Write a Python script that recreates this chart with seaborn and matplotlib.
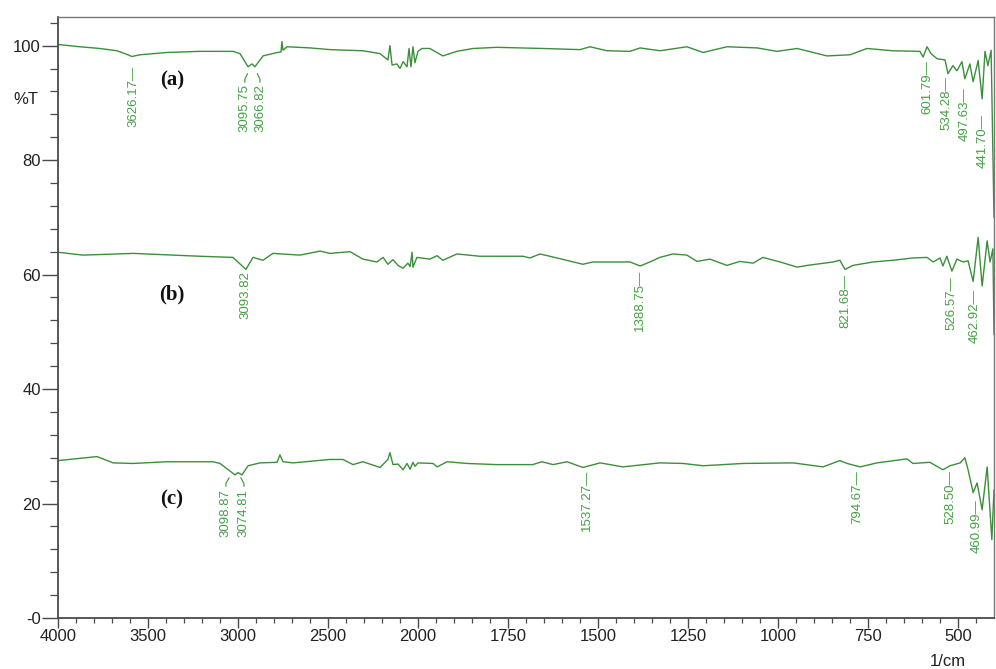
import numpy as np
import pandas as pd
import matplotlib
matplotlib.use('Agg')
import matplotlib.pyplot as plt
from matplotlib.ticker import FixedLocator, MultipleLocator
import seaborn as sns

# spectrum (a): wavenumber (1/cm) and %T
wn_a = [4000, 3878, 3767, 3672, 3628, 3589, 3544, 3394, 3211, 3028, 2989, 2944, 2922, 2906,
        2861, 2783, 2761, 2756, 2750, 2728, 2600, 2489, 2306, 2211, 2167, 2156, 2144, 2117,
        2100, 2083, 2061, 2050, 2039, 2028, 2017, 2000, 1989, 1967, 1931, 1892, 1847, 1781,
        1653, 1550, 1522, 1475, 1411, 1383, 1328, 1253, 1208, 1142, 1058, 1003, 947, 864,
        800, 753, 681, 606, 597, 586, 575, 558, 536, 528, 514, 503, 489, 481, 467, 458, 444,
        433, 425, 417, 408, 400]
t_a = [100.2, 99.8, 99.5, 99.1, 98.6, 98.1, 98.4, 98.8, 99.0, 99.0, 98.6, 96.3, 96.8, 96.3,
       98.2, 98.8, 98.9, 100.7, 99.2, 99.8, 99.6, 99.3, 99.1, 98.6, 97.5, 100.0, 96.6, 96.8,
       96.0, 97.2, 96.3, 99.5, 96.3, 99.8, 97.0, 99.0, 99.5, 99.5, 98.2, 99.0, 99.5, 99.7,
       99.5, 99.3, 99.8, 99.1, 99.0, 99.6, 99.1, 99.8, 98.8, 99.8, 99.6, 99.0, 99.5, 98.2,
       98.4, 99.5, 99.1, 99.0, 98.0, 99.8, 98.6, 97.7, 97.5, 95.1, 96.5, 95.6, 97.2, 94.2,
       96.8, 93.7, 97.4, 90.7, 99.0, 96.5, 99.2, 70.0]

# spectrum (b)
wn_b = [4000, 3861, 3583, 3211, 3028, 2956, 2917, 2861, 2806, 2656, 2544, 2489, 2378, 2306,
        2228, 2194, 2167, 2139, 2111, 2083, 2056, 2044, 2033, 2028, 2006, 1967, 1947, 1931,
        1892, 1828, 1708, 1689, 1661, 1614, 1542, 1514, 1411, 1383, 1356, 1328, 1292, 1253,
        1225, 1189, 1142, 1106, 1069, 1042, 994, 947, 919, 847, 828, 814, 792, 736, 681, 625,
        586, 569, 550, 542, 531, 517, 503, 486, 472, 458, 444, 433, 419, 411, 403, 400]
t_b = [63.9, 63.4, 63.7, 63.2, 63.0, 60.9, 63.0, 62.5, 63.7, 63.4, 64.1, 63.7, 64.0, 62.7,
       62.2, 63.0, 61.8, 62.6, 61.6, 61.1, 62.0, 61.4, 63.9, 61.3, 63.0, 62.7, 63.3, 62.5,
       63.6, 63.2, 63.2, 62.9, 63.6, 62.9, 61.8, 62.2, 62.2, 61.5, 62.2, 63.0, 63.6, 63.4,
       62.3, 62.7, 61.6, 62.3, 62.0, 63.0, 62.2, 61.3, 61.6, 62.2, 62.5, 60.9, 61.6, 62.2,
       62.5, 62.9, 63.0, 62.2, 62.9, 61.5, 63.2, 60.6, 62.7, 62.2, 62.4, 58.8, 66.5, 58.0,
       65.9, 62.2, 64.5, 49.5]

# spectrum (c)
wn_c = [4000, 3783, 3694, 3583, 3394, 3139, 3100, 3033, 3017, 3000, 2978, 2944, 2878, 2783,
        2767, 2750, 2694, 2489, 2417, 2361, 2306, 2211, 2167, 2156, 2139, 2111, 2083, 2061,
        2044, 2028, 2017, 2000, 1958, 1947, 1919, 1864, 1781, 1681, 1656, 1625, 1586, 1542,
        1494, 1431, 1328, 1264, 1208, 1097, 958, 875, 828, 808, 772, 725, 642, 625, 578, 542,
        522, 494, 481, 472, 458, 447, 433, 419, 406, 400]
t_c = [27.5, 28.2, 27.1, 27.0, 27.3, 27.3, 27.0, 25.4, 25.0, 25.4, 25.0, 26.6, 27.1, 27.2,
       28.5, 27.3, 27.1, 27.7, 27.7, 26.8, 27.3, 26.3, 27.7, 28.9, 26.8, 26.9, 25.9, 27.0,
       26.0, 27.2, 26.5, 27.1, 27.0, 26.4, 27.3, 27.0, 26.8, 26.8, 27.3, 26.8, 27.3, 26.3,
       27.1, 26.4, 27.1, 27.0, 26.6, 27.0, 27.1, 26.4, 27.5, 27.0, 26.4, 27.1, 27.8, 27.0,
       27.2, 25.9, 26.6, 27.1, 28.0, 25.9, 21.9, 23.6, 18.9, 26.4, 13.7, 22.4]

# peak labels: text, x position on the axis, top of label (%T), leader style
peak_text = ['3626.17', '3095.75', '3066.82', '601.79', '534.28', '497.63', '441.70',
             '3093.82', '1388.75', '821.68', '526.57', '462.92',
             '3098.87', '3074.81', '1537.27', '794.67', '528.50', '460.99']
peak_pos = [3583, 2962, 2878, 586, 531, 481, 431,
            2956, 1383, 814, 517, 453,
            3067, 2967, 1531, 781, 522, 447]
peak_top = [96.5, 95.1, 95.1, 97.4, 94.6, 92.8, 88.1,
            60.6, 60.9, 60.1, 59.7, 57.4,
            24.5, 24.5, 25.9, 25.9, 25.9, 20.7]
peak_lead = ['dash', 'bent', 'bent', 'dash', 'dash', 'dash', 'dash',
             'none', 'dash', 'dash', 'dash', 'dash',
             'bent', 'bent', 'dash', 'dash', 'dash', 'dash']

panel_names = ['(a)', '(b)', '(c)']
panel_pos = [3367, 3367, 3367]
panel_t = [93.9, 56.6, 20.7]

x_major = [4000, 3500, 3000, 2500, 2000, 1750, 1500, 1250, 1000, 750, 500]
x_minor = list(range(4000, 2000, -100)) + list(range(2000, 400, -50))
y_major = [0, 20, 40, 60, 80, 100]
y_labels = ['-0', '20', '40', '60', '80', '100']

sns.set_theme(style='white')
plt.rcParams['font.family'] = ['Liberation Sans', 'DejaVu Sans']

line_green = '#3b8f3b'
text_green = '#46a046'
axis_gray = '#4a4a4a'

df = pd.concat([
    pd.DataFrame({'wn': wn_a, 'T': t_a, 'sample': 'a'}),
    pd.DataFrame({'wn': wn_b, 'T': t_b, 'sample': 'b'}),
    pd.DataFrame({'wn': wn_c, 'T': t_c, 'sample': 'c'}),
])

fig = plt.figure(figsize=(9.96, 6.69), dpi=100)
ax = fig.add_axes([58 / 996, 51 / 669, 936 / 996, 601 / 669])


# split wavenumber scale: 2x expansion below 2000 1/cm
def fwd(w):
    w = np.asarray(w, dtype=float)
    return np.where(w > 2000, 2000 + (w - 2000) / 2, w)


def inv(u):
    u = np.asarray(u, dtype=float)
    return np.where(u > 2000, 2000 + (u - 2000) * 2, u)


ax.set_xscale('function', functions=(fwd, inv))

for s in ['a', 'b', 'c']:
    sns.lineplot(data=df[df['sample'] == s], x='wn', y='T', color=line_green,
                 linewidth=1.0, estimator=None, ax=ax)

ax.set_xlim(4000, 400)
ax.set_ylim(0, 105)

# peak labels
pairs = {}
for txt, pos, top, lead in zip(peak_text, peak_pos, peak_top, peak_lead):
    if lead == 'bent':
        pairs.setdefault(round(top, 1), []).append(pos)
for txt, pos, top, lead in zip(peak_text, peak_pos, peak_top, peak_lead):
    if lead == 'dash':
        ax.text(pos, top, txt + '\u2014', rotation=90, ha='center', va='top',
                fontsize=9.5, color=text_green)
    elif lead == 'none':
        ax.text(pos, top, txt, rotation=90, ha='center', va='top',
                fontsize=9.5, color=text_green)
    else:
        grp = pairs[round(top, 1)]
        mid = float(inv((fwd(grp[0]) + fwd(grp[1])) / 2))
        side = pos + (mid - pos) * 0.35
        ax.plot([side, pos, pos], [top, top - 1.0, top - 1.5], color=text_green, lw=0.9)
        ax.text(pos, top - 1.9, txt, rotation=90, ha='center', va='top',
                fontsize=9.5, color=text_green)

for name, pos, t in zip(panel_names, panel_pos, panel_t):
    ax.text(pos, t, name, ha='center', va='center', fontsize=15, fontweight='bold',
            family='Liberation Serif', color='#111111')

ax.xaxis.set_major_locator(FixedLocator(x_major))
ax.xaxis.set_minor_locator(FixedLocator(x_minor))
ax.set_xticklabels([str(v) for v in x_major])
ax.yaxis.set_major_locator(FixedLocator(y_major))
ax.yaxis.set_minor_locator(MultipleLocator(4))
ax.set_yticklabels(y_labels)

ax.tick_params(axis='x', which='major', direction='out', length=7, width=1.0,
               color=axis_gray, labelsize=12, labelcolor='#222222', pad=1, bottom=True)
ax.tick_params(axis='x', which='minor', direction='out', length=3.5, width=0.9,
               color=axis_gray, bottom=True)
ax.tick_params(axis='y', which='major', direction='out', length=11.5, width=1.0,
               color=axis_gray, labelsize=12, labelcolor='#222222', pad=1, left=True)
ax.tick_params(axis='y', which='minor', direction='out', length=6, width=0.9,
               color=axis_gray, left=True)

for side in ['left', 'bottom']:
    ax.spines[side].set_color(axis_gray)
    ax.spines[side].set_linewidth(1.3)
for side in ['top', 'right']:
    ax.spines[side].set_color('#777777')
    ax.spines[side].set_linewidth(1.0)

ax.set_xlabel('')
ax.set_ylabel('')
fig.text(13 / 996, 1 - 100 / 669, '%T', fontsize=12, va='center', ha='left', color='#222222')
fig.text(930 / 996, 1 - 661 / 669, '1/cm', fontsize=12, va='center', ha='left', color='#222222')

plt.savefig('out.png', dpi=100)
